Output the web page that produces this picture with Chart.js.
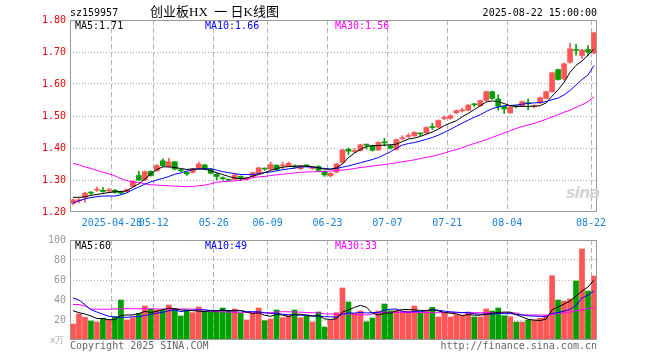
<!DOCTYPE html>
<html><head><meta charset="utf-8">
<script src="https://cdn.jsdelivr.net/npm/chart.js@4.4.1/dist/chart.umd.min.js"></script>
<style>
body{margin:0;background:#fff;width:660px;height:360px;overflow:hidden;position:relative;font-family:"DejaVu Sans Mono",monospace;}
canvas{position:absolute;left:0;}
.t{position:absolute;white-space:pre;font-size:10px;line-height:12px;font-family:"DejaVu Sans Mono",monospace;}
</style></head><body>
<canvas id="c1" width="660" height="230" style="top:0;width:660px;height:230px"></canvas>
<canvas id="c2" width="660" height="130" style="top:230px;width:660px;height:130px"></canvas>
<div class="t" style="left:70px;top:7px;color:#000">sz159957</div>
<div class="t" style="left:150px;top:4px;font-size:13px;line-height:16px;font-family:'Liberation Serif','Noto Sans CJK SC',serif;color:#000">创业板HX&#8194;一&#8197;日K线图</div>
<div class="t" style="right:63px;top:7px;color:#000">2025-08-22 15:00:00</div>
<div class="t" style="left:75px;top:20px;color:#000">MA5:1.71</div>
<div class="t" style="left:205px;top:20px;color:#0000ff">MA10:1.66</div>
<div class="t" style="left:335px;top:20px;color:#ff00ff">MA30:1.56</div>
<div class="t" style="left:75px;top:240px;color:#000">MA5:60</div>
<div class="t" style="left:205px;top:240px;color:#0000ff">MA10:49</div>
<div class="t" style="left:335px;top:240px;color:#ff00ff">MA30:33</div>
<div class="t" style="left:50px;top:334px;color:#aaa;font-size:9px">x万</div>
<div class="t" style="left:70px;top:340px;color:#666">Copyright 2025 SINA.COM</div>
<div class="t" style="right:63px;top:340px;color:#666">http://finance.sina.com.cn</div>
<div class="t" style="left:566px;top:184px;color:#d4d4d4;font-size:16px;line-height:18px;font-style:italic;font-weight:bold;font-family:'DejaVu Sans',sans-serif;letter-spacing:-1px">sina</div>
<script>
const dates = ["2025-04-17","2025-04-18","2025-04-21","2025-04-22","2025-04-23","2025-04-24","2025-04-25","2025-04-28","2025-04-29","2025-04-30",
"2025-05-06","2025-05-07","2025-05-08","2025-05-09","2025-05-12","2025-05-13","2025-05-14","2025-05-15","2025-05-16","2025-05-19",
"2025-05-20","2025-05-21","2025-05-22","2025-05-23","2025-05-26","2025-05-27","2025-05-28","2025-05-29","2025-05-30","2025-06-03",
"2025-06-04","2025-06-05","2025-06-06","2025-06-09","2025-06-10","2025-06-11","2025-06-12","2025-06-13","2025-06-16","2025-06-17",
"2025-06-18","2025-06-19","2025-06-20","2025-06-23","2025-06-24","2025-06-25","2025-06-26","2025-06-27","2025-06-30","2025-07-01",
"2025-07-02","2025-07-03","2025-07-04","2025-07-07","2025-07-08","2025-07-09","2025-07-10","2025-07-11","2025-07-14","2025-07-15",
"2025-07-16","2025-07-17","2025-07-18","2025-07-21","2025-07-22","2025-07-23","2025-07-24","2025-07-25","2025-07-28","2025-07-29",
"2025-07-30","2025-07-31","2025-08-01","2025-08-04","2025-08-05","2025-08-06","2025-08-07","2025-08-08","2025-08-11","2025-08-12",
"2025-08-13","2025-08-14","2025-08-15","2025-08-18","2025-08-19","2025-08-20","2025-08-21","2025-08-22"];
const tickDates = ["2025-04-28","2025-05-12","2025-05-26","2025-06-09","2025-06-23","2025-07-07","2025-07-21","2025-08-04","2025-08-22"];
const tickLabels = ["2025-04-28","05-12","05-26","06-09","06-23","07-07","07-21","08-04","08-22"];
const priceTicks = [1.2,1.3,1.4,1.5,1.6,1.7,1.8];
const volTicks = [0,20,40,60,80,100];

const open = [1.227,1.235,1.246,1.261,1.268,1.268,1.266,1.268,1.262,1.264,
1.280,1.314,1.300,1.327,1.329,1.360,1.342,1.357,1.331,1.324,
1.324,1.337,1.347,1.334,1.318,1.306,1.301,1.302,1.311,1.303,
1.311,1.321,1.336,1.334,1.346,1.344,1.344,1.343,1.335,1.346,
1.336,1.342,1.327,1.313,1.325,1.355,1.396,1.389,1.392,1.411,
1.407,1.394,1.418,1.407,1.396,1.429,1.436,1.438,1.446,1.447,
1.466,1.465,1.492,1.493,1.510,1.516,1.518,1.538,1.532,1.549,
1.576,1.553,1.530,1.510,1.531,1.532,1.541,1.529,1.541,1.555,
1.576,1.645,1.616,1.668,1.707,1.689,1.708,1.697];
const close = [1.238,1.237,1.259,1.259,1.271,1.264,1.268,1.262,1.259,1.270,
1.296,1.300,1.326,1.314,1.345,1.345,1.357,1.334,1.329,1.319,
1.334,1.350,1.335,1.321,1.311,1.304,1.299,1.316,1.303,1.305,
1.323,1.338,1.334,1.348,1.332,1.347,1.352,1.341,1.344,1.344,
1.338,1.330,1.316,1.321,1.350,1.394,1.390,1.392,1.410,1.409,
1.393,1.417,1.416,1.400,1.426,1.432,1.439,1.449,1.444,1.464,
1.464,1.486,1.495,1.501,1.517,1.519,1.534,1.535,1.548,1.576,
1.555,1.530,1.522,1.528,1.529,1.545,1.539,1.531,1.557,1.576,
1.635,1.614,1.663,1.710,1.705,1.706,1.700,1.760];
const high = [1.240,1.242,1.262,1.264,1.278,1.276,1.274,1.271,1.265,1.272,
1.298,1.327,1.328,1.329,1.348,1.366,1.368,1.358,1.334,1.326,
1.336,1.356,1.349,1.336,1.321,1.310,1.303,1.318,1.313,1.308,
1.325,1.340,1.338,1.356,1.348,1.356,1.356,1.347,1.346,1.348,
1.342,1.345,1.329,1.323,1.352,1.396,1.400,1.398,1.412,1.412,
1.409,1.420,1.430,1.410,1.428,1.438,1.445,1.451,1.447,1.466,
1.477,1.488,1.500,1.504,1.519,1.524,1.536,1.539,1.550,1.578,
1.578,1.566,1.532,1.530,1.534,1.547,1.553,1.535,1.559,1.578,
1.637,1.647,1.665,1.727,1.724,1.708,1.720,1.762];
const low = [1.222,1.228,1.230,1.255,1.264,1.262,1.262,1.259,1.256,1.262,
1.278,1.298,1.298,1.312,1.327,1.342,1.340,1.332,1.326,1.314,
1.322,1.335,1.333,1.319,1.300,1.300,1.297,1.300,1.299,1.300,
1.309,1.319,1.330,1.332,1.328,1.335,1.342,1.337,1.333,1.342,
1.333,1.326,1.311,1.310,1.323,1.352,1.380,1.385,1.390,1.397,
1.390,1.392,1.406,1.396,1.393,1.425,1.432,1.436,1.438,1.445,
1.458,1.463,1.488,1.490,1.507,1.512,1.516,1.529,1.530,1.547,
1.552,1.518,1.508,1.508,1.525,1.530,1.520,1.525,1.538,1.553,
1.574,1.612,1.612,1.665,1.690,1.680,1.688,1.695];
const ma5 = [1.246,1.246,1.247,1.252,1.255,1.258,1.261,1.263,1.264,1.266,
1.278,1.288,1.303,1.319,1.333,1.341,1.341,1.339,1.336,1.333,
1.335,1.334,1.334,1.329,1.323,1.317,1.311,1.306,1.304,1.306,
1.312,1.317,1.323,1.330,1.336,1.340,1.342,1.343,1.344,1.343,
1.342,1.338,1.334,1.334,1.338,1.350,1.370,1.384,1.396,1.405,
1.407,1.408,1.409,1.410,1.412,1.420,1.428,1.431,1.436,1.443,
1.450,1.459,1.470,1.478,1.485,1.498,1.508,1.520,1.532,1.544,
1.547,1.545,1.539,1.532,1.530,1.530,1.530,1.531,1.532,1.541,
1.562,1.582,1.605,1.637,1.658,1.672,1.690,1.710];
const ma10 = [1.228,1.235,1.241,1.245,1.248,1.250,1.250,1.250,1.254,1.260,
1.270,1.278,1.287,1.294,1.300,1.305,1.311,1.318,1.322,1.328,
1.332,1.335,1.335,1.335,1.331,1.326,1.323,1.320,1.317,1.317,
1.317,1.320,1.323,1.325,1.329,1.332,1.335,1.337,1.341,1.341,
1.340,1.338,1.336,1.334,1.336,1.340,1.344,1.349,1.354,1.359,
1.364,1.370,1.379,1.388,1.399,1.409,1.414,1.417,1.422,1.427,
1.433,1.440,1.449,1.458,1.468,1.478,1.487,1.496,1.504,1.514,
1.523,1.528,1.532,1.533,1.534,1.537,1.539,1.541,1.542,1.545,
1.551,1.556,1.566,1.580,1.597,1.614,1.628,1.658];
const ma30 = [1.352,1.347,1.341,1.336,1.330,1.324,1.319,1.313,1.304,1.298,
1.294,1.292,1.288,1.285,1.284,1.283,1.282,1.281,1.280,1.279,
1.280,1.282,1.284,1.288,1.293,1.295,1.296,1.297,1.299,1.302,
1.307,1.310,1.311,1.314,1.316,1.318,1.320,1.322,1.324,1.325,
1.326,1.326,1.327,1.328,1.330,1.331,1.333,1.336,1.339,1.341,
1.344,1.346,1.348,1.351,1.354,1.357,1.360,1.363,1.367,1.371,
1.374,1.379,1.384,1.390,1.395,1.401,1.408,1.414,1.420,1.426,
1.433,1.440,1.447,1.454,1.461,1.467,1.472,1.477,1.483,1.490,
1.497,1.504,1.512,1.518,1.527,1.535,1.545,1.560];
const volume = [16,26,22.7,19,18,21.7,20,23.3,40,20,
22.3,26.7,34,30.7,30,30,35,31,24,29.3,
27.3,33,28.3,28.3,28.3,32,29,31,26.7,20,
26,32,19.3,21,30,22.3,24.3,30,22.3,24,
18,28,13,19.7,27.3,52,38,26.7,29,18.3,
22,29,36,29.3,29.3,29,29,34,26.7,29,
32.7,23,26.7,23,25.3,24.7,28,23,23,31,
29,32,24.3,23.3,18,18,20,20,21.7,24.7,
64.3,40,38.7,41,59,91,49,64];
const vma5 = [29.3,27.3,26,24,21.5,21.5,20.3,20.4,24.6,25,
25.1,26.5,28.6,27.5,28.7,30.3,31.9,31.3,30,29.9,
29.3,28.9,28.4,29.2,29,30,29.2,29.7,29.4,27.7,
26.5,27.1,24.8,23.7,25.7,24.9,23.4,25.5,25.8,24.6,
23.7,24.5,21.1,20.5,21.2,28,30,32.7,34.6,32.8,
26.8,25,26.9,26.9,29.1,30.5,30.5,30.1,29.6,29.5,
30.3,29.1,27.6,26.9,26.1,24.5,25.5,24.8,24.8,25.9,
26.8,27.6,27.9,27.9,25.3,23.1,20.7,19.9,19.5,20.9,
30.1,33,36,39,44,49,53,60];
const vma10 = [42,40,35.3,30.3,28,25.7,23.7,23,22.7,22.7,
23.3,23.4,24.5,25.7,26.9,27.7,29.2,30,28.4,29.3,
29.8,30.4,29.9,29.6,29.5,29.7,29.1,29.1,29.3,28.4,
28.3,28.2,27.3,26.5,26.7,25.7,25.3,25.2,24.7,25.1,
24.3,23.9,23.3,23.2,22.9,25.9,27.2,26.9,27.6,27,
27.4,27.5,29.8,30.8,31,28.7,27.8,28.5,28.3,29.3,
30.4,29.8,28.9,28.2,27.8,27.4,27.3,26.2,25.8,26,
25.7,26.6,26.3,26.4,25.6,25,24.2,23.9,23.7,23.1,
26.6,27.4,28.9,30.6,34.7,42,44.9,49];
const vma30 = [35.5,35.5,34,31,30.8,30.8,30.8,31,31.2,31.3,
31.3,31.2,31.3,31.3,31,31,31,31,31,31,
30.9,30.7,30.5,28.5,28.3,28.2,28,27.8,27.7,27.5,
27.4,27.3,27.3,27.3,28,28.3,28.2,28,27.8,27.5,
27.3,27,26.2,26,26,26,25.8,25.5,25.2,25,
26,27.5,27.7,27.7,27.7,27.5,27.5,27.5,27.4,27.4,
27.4,27.3,27.3,27.3,27.3,27.3,27.3,27.3,27.3,27.3,
27.3,27.3,27.3,27.3,27,25.2,25,25,25,25,
25.5,26.5,27.3,28,29,30.3,31.5,33];

const RED = '#ff5555', GREEN = '#00a000';
const colors = close.map((c,i)=> c >= open[i] ? RED : GREEN);
const FONT = {family:'DejaVu Sans Mono', size:10};
const CLEAR = 'rgba(0,0,0,0)';
const GRIDC = '#b4b4b4';
const tickIdx = tickDates.map(d=>dates.indexOf(d));

const frame = {id:'frame', afterDraw(chart){
  const a = chart.chartArea, c = chart.ctx;
  c.save(); c.strokeStyle = '#999'; c.lineWidth = 1; c.setLineDash([]);
  c.strokeRect(Math.round(a.left)+0.5, Math.round(a.top)+0.5, Math.round(a.right-a.left)-1, Math.round(a.bottom-a.top)-1);
  c.restore();
}};

function xScale(showLabels, h){
  return {
    type:'category', labels: dates, offset:true,
    grid:{offset:true, drawTicks:false, lineWidth:1, color: c => tickIdx.includes(c.index) ? GRIDC : CLEAR},
    border:{display:false, dash:[5,3]},
    ticks:{display:showLabels, autoSkip:false, maxRotation:0, minRotation:0, color:'#1a80d8', font:FONT, padding:5, labelOffset:-3,
      callback:(v,i)=>{ const k = tickDates.indexOf(dates[i]); return k>=0 ? tickLabels[k] : ''; }},
    afterFit: s => { s.height = h; }
  };
}
const line = (d,col)=>({type:'line', data:d, borderColor:col, borderWidth:1, pointRadius:0, tension:0, fill:false, order:0});

new Chart(document.getElementById('c1'), {
  type:'bar',
  data:{labels:dates, datasets:[
    line(ma5,'#000000'), line(ma10,'#0000ff'), line(ma30,'#ff00ff'),
    {type:'bar', data: open.map((o,i)=>[o, close[i]]), backgroundColor: colors, barThickness:5, grouped:false, minBarLength:1, order:1},
    {type:'bar', data: low.map((l,i)=>[l, high[i]]), backgroundColor: colors, barThickness:1, grouped:false, order:2}
  ]},
  options:{
    responsive:false, animation:false, devicePixelRatio:1,
    layout:{padding:{top:20, right:63, left:0, bottom:0}},
    plugins:{legend:{display:false}, tooltip:{enabled:false}},
    scales:{
      x: xScale(true, 18),
      y: {min:priceTicks[0], max:priceTicks[priceTicks.length-1],
        afterBuildTicks: s => { s.ticks = priceTicks.map(v=>({value:v})); },
        grid:{drawTicks:false, color: c => (c.tick && c.tick.value>priceTicks[0]+0.01 && c.tick.value<priceTicks[priceTicks.length-1]-0.01) ? GRIDC : CLEAR},
        border:{display:false, dash:[1,2]},
        ticks:{color:'#ee0000', font:FONT, padding:4, callback:v=>Number(v).toFixed(2)},
        afterFit: s => { s.width = 70; }}
    }
  },
  plugins:[frame]
});

new Chart(document.getElementById('c2'), {
  type:'bar',
  data:{labels:dates, datasets:[
    line(vma5,'#000000'), line(vma10,'#0000ff'), line(vma30,'#ff00ff'),
    {type:'bar', data: volume, backgroundColor: colors, barThickness:5, grouped:false, order:1}
  ]},
  options:{
    responsive:false, animation:false, devicePixelRatio:1,
    layout:{padding:{top:10, right:63, left:0, bottom:0}},
    plugins:{legend:{display:false}, tooltip:{enabled:false}},
    scales:{
      x: xScale(false, 20),
      y: {min:volTicks[0], max:volTicks[volTicks.length-1],
        afterBuildTicks: s => { s.ticks = volTicks.map(v=>({value:v})); },
        grid:{drawTicks:false, color: c => (c.tick && c.tick.value>0 && c.tick.value<100) ? GRIDC : CLEAR},
        border:{display:false, dash:[1,2]},
        ticks:{color:'#999999', font:FONT, padding:4, callback:v=> v===0 ? '' : String(v)},
        afterFit: s => { s.width = 70; }}
    }
  },
  plugins:[frame]
});
</script>
</body></html>
